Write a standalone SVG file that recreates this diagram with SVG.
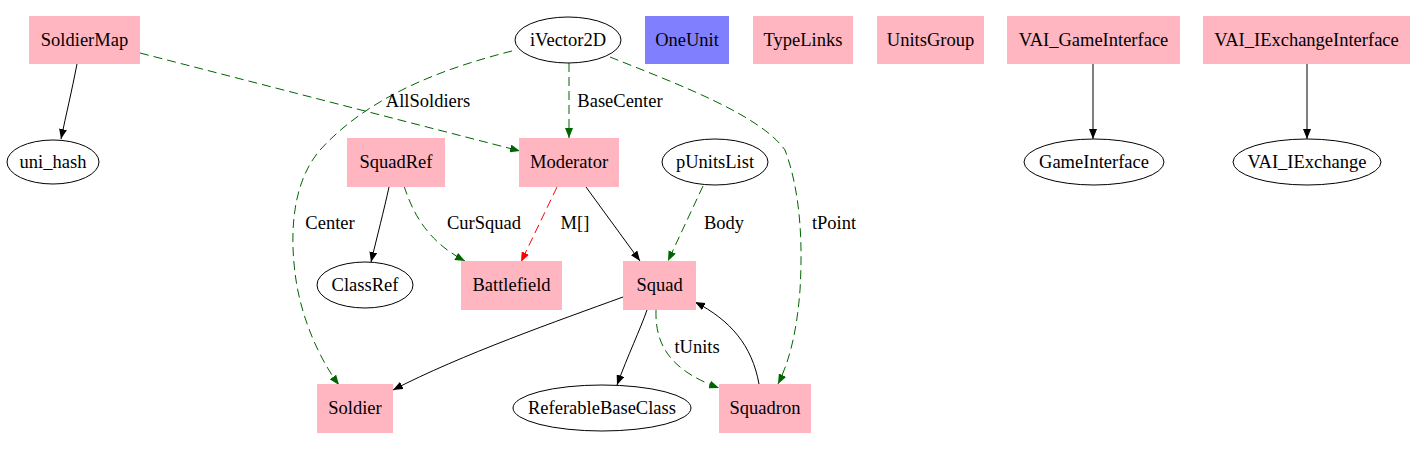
<svg xmlns="http://www.w3.org/2000/svg" width="1411" height="449" viewBox="0 0 1411 449">
<style>
text{font-family:"Liberation Serif","Times New Roman",serif;font-size:18.5px;fill:#000;text-anchor:middle}
.box{fill:#ffb6c1;stroke:none}
.blue{fill:#8080ff;stroke:none}
.ell{fill:#fff;stroke:#000;stroke-width:1}
.e{fill:none;stroke-width:1}
.k{stroke:#000}
.g{stroke:#006400;stroke-dasharray:9,5}
.r{stroke:#ff0000;stroke-dasharray:9,5}
</style>
<defs>
<marker id="ak" markerUnits="userSpaceOnUse" markerWidth="10" markerHeight="8" refX="10" refY="4" orient="auto"><path d="M0,0L10,4L0,8z" fill="#000"/></marker>
<marker id="ag" markerUnits="userSpaceOnUse" markerWidth="10" markerHeight="8" refX="10" refY="4" orient="auto"><path d="M0,0L10,4L0,8z" fill="#006400"/></marker>
<marker id="ar" markerUnits="userSpaceOnUse" markerWidth="10" markerHeight="8" refX="10" refY="4" orient="auto"><path d="M0,0L10,4L0,8z" fill="#ff0000"/></marker>
</defs>
<rect width="1411" height="449" fill="#fff"/>
<g id="edges">
<path class="e k" d="M77,64 C72,90 66,115 61,139" marker-end="url(#ak)"/>
<path class="e g" d="M140,53 L520,151" marker-end="url(#ag)"/>
<path class="e g" d="M569,63 L569,138" marker-end="url(#ag)"/>
<path class="e g" d="M512,51 C445,68 370,95 320,150 C290,185 290,240 296,280 C302,320 320,360 339,385" marker-end="url(#ag)"/>
<path class="e g" d="M610,57 C680,85 760,115 785,150 C800,190 803,240 800,290 C797,330 790,360 778,384" marker-end="url(#ag)"/>
<path class="e k" d="M389,187 C384,210 377,237 371,262" marker-end="url(#ak)"/>
<path class="e g" d="M404,186 C412,210 425,240 465,261" marker-end="url(#ag)"/>
<path class="e r" d="M557,187 L521,262" marker-end="url(#ar)"/>
<path class="e k" d="M586,187 L640,261" marker-end="url(#ak)"/>
<path class="e g" d="M703,186 L668,261" marker-end="url(#ag)"/>
<path class="e k" d="M623,297 C560,320 460,355 393,390" marker-end="url(#ak)"/>
<path class="e k" d="M647,310 C640,330 628,355 617,385" marker-end="url(#ak)"/>
<path class="e g" d="M656,310 C655,345 670,370 719,388" marker-end="url(#ag)"/>
<path class="e k" d="M759,384 C752,345 730,320 695,302" marker-end="url(#ak)"/>
<path class="e k" d="M1093,64 L1093,139" marker-end="url(#ak)"/>
<path class="e k" d="M1307,64 L1307,139" marker-end="url(#ak)"/>
<text x="428" y="107">AllSoldiers</text>
<text x="620" y="107">BaseCenter</text>
<text x="330" y="229">Center</text>
<text x="484" y="229">CurSquad</text>
<text x="575" y="229">M[]</text>
<text x="724" y="229">Body</text>
<text x="834" y="229">tPoint</text>
<text x="697" y="353">tUnits</text>
</g>
<g id="SoldierMap"><rect class="box" x="29" y="16" width="111" height="48"/><text x="84.5" y="46">SoldierMap</text></g>
<g id="iVector2D"><ellipse class="ell" cx="568" cy="40" rx="53" ry="23"/><text x="568" y="46">iVector2D</text></g>
<g id="OneUnit"><rect class="blue" x="645" y="16" width="84" height="48"/><text x="687" y="46">OneUnit</text></g>
<g id="TypeLinks"><rect class="box" x="753" y="16" width="100" height="48"/><text x="803" y="46">TypeLinks</text></g>
<g id="UnitsGroup"><rect class="box" x="877" y="16" width="107" height="48"/><text x="930.5" y="46">UnitsGroup</text></g>
<g id="VAI_GameInterface"><rect class="box" x="1007" y="16" width="173" height="48"/><text x="1093.5" y="46">VAI_GameInterface</text></g>
<g id="VAI_IExchangeInterface"><rect class="box" x="1203" y="16" width="207" height="48"/><text x="1306.5" y="46">VAI_IExchangeInterface</text></g>
<g id="uni_hash"><ellipse class="ell" cx="53" cy="162" rx="46" ry="22"/><text x="53" y="168">uni_hash</text></g>
<g id="SquadRef"><rect class="box" x="347" y="138" width="98" height="49"/><text x="396" y="168">SquadRef</text></g>
<g id="Moderator"><rect class="box" x="519" y="138" width="100" height="49"/><text x="569" y="168">Moderator</text></g>
<g id="pUnitsList"><ellipse class="ell" cx="715" cy="162" rx="53" ry="23"/><text x="715" y="168">pUnitsList</text></g>
<g id="GameInterface"><ellipse class="ell" cx="1094" cy="162" rx="70" ry="23"/><text x="1094" y="168">GameInterface</text></g>
<g id="VAI_IExchange"><ellipse class="ell" cx="1307" cy="162" rx="74" ry="23"/><text x="1307" y="168">VAI_IExchange</text></g>
<g id="ClassRef"><ellipse class="ell" cx="365" cy="285" rx="48" ry="23"/><text x="365" y="291">ClassRef</text></g>
<g id="Battlefield"><rect class="box" x="461" y="261" width="101" height="49"/><text x="511.5" y="291">Battlefield</text></g>
<g id="Squad"><rect class="box" x="623" y="261" width="73" height="49"/><text x="659.5" y="291">Squad</text></g>
<g id="Soldier"><rect class="box" x="317" y="384" width="76" height="49"/><text x="355" y="414">Soldier</text></g>
<g id="ReferableBaseClass"><ellipse class="ell" cx="602" cy="408" rx="89" ry="23"/><text x="602" y="414">ReferableBaseClass</text></g>
<g id="Squadron"><rect class="box" x="719" y="384" width="92" height="49"/><text x="765" y="414">Squadron</text></g>
</svg>
